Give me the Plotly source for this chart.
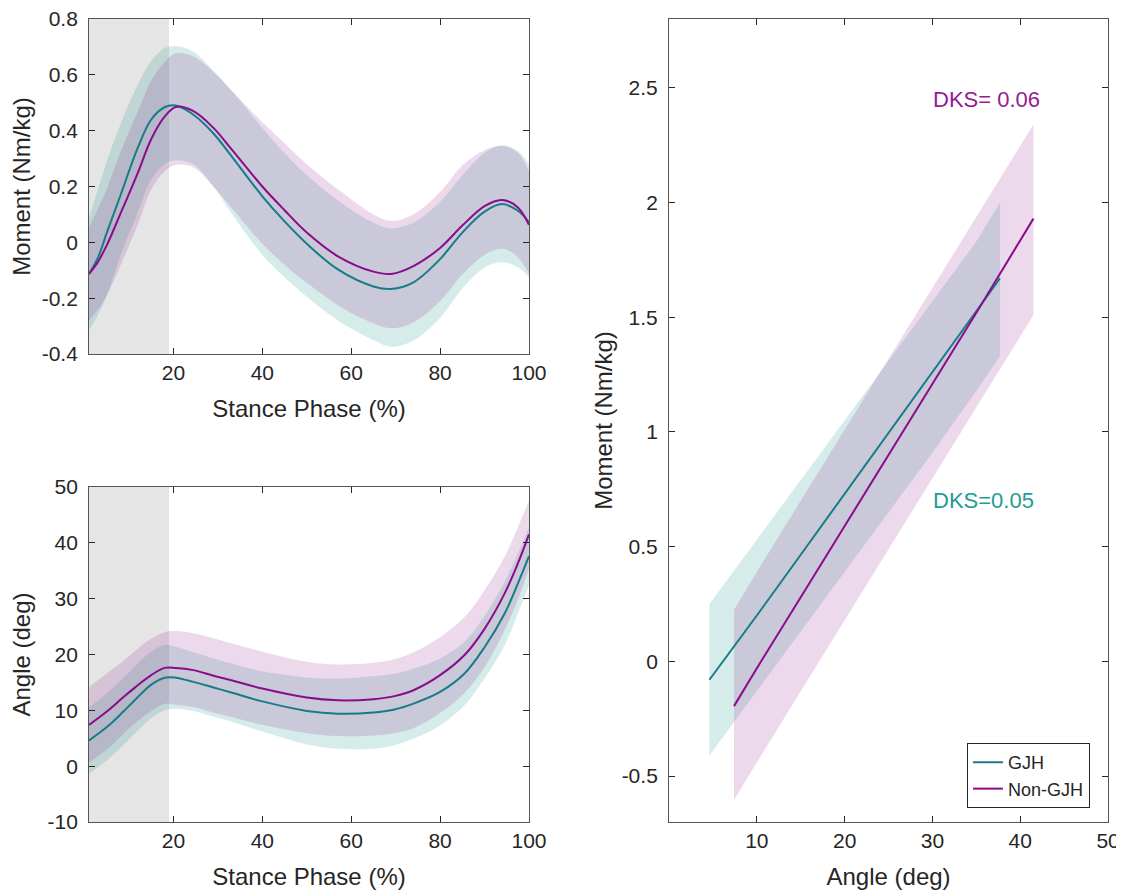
import plotly.graph_objects as go

# ── Data ─────────────────────────────────────────────────────────────────────

# top-left: moment over stance phase
phase_m = [1, 3, 5, 8, 12, 15, 18, 20.5, 24.5, 29, 33, 40, 45, 50, 57, 65, 69, 74, 80, 85, 90, 94, 97.5, 100]
gjh_moment = [-0.113, -0.055, 0.035, 0.165, 0.34, 0.44, 0.484, 0.49, 0.457, 0.39, 0.31, 0.165, 0.075, -0.005,
              -0.097, -0.158, -0.167, -0.143, -0.06, 0.035, 0.11, 0.137, 0.113, 0.072]
gjh_moment_hi = [0.09, 0.19, 0.29, 0.42, 0.565, 0.65, 0.695, 0.703, 0.683, 0.615, 0.545, 0.41, 0.32, 0.24,
                 0.15, 0.07, 0.05, 0.07, 0.145, 0.24, 0.32, 0.348, 0.327, 0.28]
gjh_moment_lo = [-0.314, -0.26, -0.19, -0.05, 0.11, 0.225, 0.28, 0.294, 0.28, 0.2, 0.105, -0.045, -0.125, -0.195,
                 -0.28, -0.35, -0.374, -0.352, -0.27, -0.165, -0.09, -0.071, -0.089, -0.124]
non_moment = [-0.113, -0.07, -0.01, 0.10, 0.25, 0.37, 0.45, 0.485, 0.47, 0.41, 0.335, 0.20, 0.115, 0.035,
              -0.05, -0.105, -0.113, -0.085, -0.02, 0.06, 0.13, 0.152, 0.125, 0.063]
non_moment_hi = [0.054, 0.12, 0.19, 0.32, 0.47, 0.58, 0.645, 0.677, 0.666, 0.61, 0.545, 0.43, 0.355, 0.28,
                 0.19, 0.1, 0.077, 0.1, 0.18, 0.275, 0.33, 0.345, 0.321, 0.256]
non_moment_lo = [-0.28, -0.24, -0.19, -0.085, 0.065, 0.19, 0.255, 0.277, 0.268, 0.2, 0.125, -0.005, -0.08, -0.145,
                 -0.225, -0.29, -0.308, -0.287, -0.21, -0.115, -0.045, -0.023, -0.053, -0.112]

# bottom-left: angle over stance phase
phase_a = [1, 5, 8.5, 11.5, 15, 18, 20.5, 24.5, 29, 33, 40, 50, 57, 65, 69.5, 74, 80, 85.5, 90, 94.5, 97.5, 100]
gjh_angle = [4.6, 7.0, 9.6, 12.0, 14.6, 15.85, 15.85, 15.1, 14.1, 13.2, 11.6, 9.9, 9.4, 9.6, 10.1, 11.2,
             13.3, 16.6, 21.3, 27.3, 32.7, 37.6]
gjh_angle_hi = [10.5, 13.0, 15.6, 18.0, 20.5, 21.7, 21.4, 20.4, 19.3, 18.4, 17.0, 15.9, 15.7, 16.1, 16.5, 17.5,
                19.3, 22.3, 26.9, 33.0, 38.1, 42.8]
gjh_angle_lo = [-1.3, 1.0, 3.6, 6.0, 8.6, 10.0, 10.3, 9.9, 8.9, 8.0, 6.2, 3.9, 3.1, 3.1, 3.7, 4.9,
                7.3, 10.9, 15.7, 21.6, 27.3, 32.4]
non_angle = [7.4, 9.8, 12.2, 14.2, 16.3, 17.6, 17.6, 17.2, 16.2, 15.4, 13.9, 12.3, 11.8, 12.0, 12.5, 13.6,
             16.3, 19.9, 24.6, 30.9, 36.3, 41.5]
non_angle_hi = [14.2, 16.6, 18.7, 20.7, 22.8, 24.0, 24.2, 23.8, 22.9, 22.0, 20.5, 18.7, 18.2, 18.5, 19.1, 20.4,
                23.1, 26.7, 31.5, 37.5, 42.8, 47.6]
non_angle_lo = [0.7, 3.0, 5.6, 7.8, 9.9, 11.2, 11.0, 10.6, 9.6, 8.8, 7.4, 5.9, 5.4, 5.5, 5.9, 6.8,
                9.5, 13.1, 17.7, 24.3, 29.8, 35.4]

# right: moment against angle
gjh_ang = [4.6, 10, 15, 20, 25, 30, 35, 37.7]
gjh_mom = [-0.08, 0.20, 0.465, 0.73, 0.995, 1.26, 1.525, 1.67]
gjh_mom_hi = [0.25, 0.53, 0.79, 1.05, 1.31, 1.57, 1.83, 2.0]
gjh_mom_lo = [-0.41, -0.13, 0.13, 0.39, 0.65, 0.91, 1.18, 1.33]
non_ang = [7.4, 10, 15, 20, 25, 30, 35, 41.5]
non_mom = [-0.195, -0.03, 0.28, 0.59, 0.90, 1.21, 1.52, 1.93]
non_mom_hi = [0.225, 0.39, 0.70, 1.01, 1.32, 1.63, 1.94, 2.34]
non_mom_lo = [-0.605, -0.44, -0.13, 0.18, 0.49, 0.80, 1.11, 1.51]

loading_end = 19   # shaded loading phase (% stance)

phase_ticks = [20, 40, 60, 80, 100]
moment_ticks = [-0.4, -0.2, 0, 0.2, 0.4, 0.6, 0.8]
moment_labels = ["-0.4", "-0.2", "0", "0.2", "0.4", "0.6", "0.8"]
angle_ticks = [-10, 0, 10, 20, 30, 40, 50]
angle_labels = ["-10", "0", "10", "20", "30", "40", "50"]
rel_x_ticks = [10, 20, 30, 40, 50]
rel_y_ticks = [-0.5, 0, 0.5, 1, 1.5, 2, 2.5]
rel_y_labels = ["-0.5", "0", "0.5", "1", "1.5", "2", "2.5"]

# ── Style ────────────────────────────────────────────────────────────────────

TEAL = "#167c86"
PURPLE = "#8a0c8a"
TEAL_FILL = "rgba(20,150,140,0.18)"
PURPLE_FILL = "rgba(140,30,140,0.17)"
FONT = "Arial, Liberation Sans, Helvetica, sans-serif"
INK = "#262626"

fig = go.Figure()


def add_band(x, lo, hi, fill, xa, ya, shape="spline"):
    fig.add_trace(go.Scatter(x=x, y=lo, mode="lines", line=dict(width=0, shape=shape),
                             showlegend=False, hoverinfo="skip", xaxis=xa, yaxis=ya))
    fig.add_trace(go.Scatter(x=x, y=hi, mode="lines", line=dict(width=0, shape=shape),
                             fill="tonexty", fillcolor=fill, showlegend=False,
                             hoverinfo="skip", xaxis=xa, yaxis=ya))


def add_line(x, y, color, xa, ya, name=None, shape="spline"):
    fig.add_trace(go.Scatter(x=x, y=y, mode="lines", line=dict(color=color, width=2, shape=shape),
                             name=name, showlegend=name is not None, xaxis=xa, yaxis=ya))


# top-left
add_band(phase_m, gjh_moment_lo, gjh_moment_hi, TEAL_FILL, "x", "y")
add_band(phase_m, non_moment_lo, non_moment_hi, PURPLE_FILL, "x", "y")
add_line(phase_m, gjh_moment, TEAL, "x", "y")
add_line(phase_m, non_moment, PURPLE, "x", "y")

# bottom-left
add_band(phase_a, gjh_angle_lo, gjh_angle_hi, TEAL_FILL, "x2", "y2")
add_band(phase_a, non_angle_lo, non_angle_hi, PURPLE_FILL, "x2", "y2")
add_line(phase_a, gjh_angle, TEAL, "x2", "y2")
add_line(phase_a, non_angle, PURPLE, "x2", "y2")

# right
add_band(gjh_ang, gjh_mom_lo, gjh_mom_hi, TEAL_FILL, "x3", "y3", shape="linear")
add_band(non_ang, non_mom_lo, non_mom_hi, PURPLE_FILL, "x3", "y3", shape="linear")
add_line(gjh_ang, gjh_mom, TEAL, "x3", "y3", name="GJH", shape="linear")
add_line(non_ang, non_mom, PURPLE, "x3", "y3", name="Non-GJH", shape="linear")

# loading-phase shading on the two time panels
for xr, yr in [("x", "y domain"), ("x2", "y2 domain")]:
    fig.add_shape(type="rect", xref=xr, yref=yr, x0=1, x1=loading_end, y0=0, y1=1,
                  fillcolor="#e5e5e5", line_width=0, layer="below")

axis_common = dict(
    showline=True, linecolor="#555555", linewidth=1, mirror="ticks",
    ticks="inside", ticklen=6, tickcolor=INK, showgrid=False, zeroline=False,
    automargin=False, ticklabeloverflow="allow",
    tickfont=dict(family=FONT, size=21, color=INK),
    title_font=dict(family=FONT, size=24, color=INK),
)
x_title = dict(standoff=16)

# the page body adds an 8px offset, so domains are placed 8px up/left
left_x = [0.0721, 0.4635]
right_x = [0.5881, 0.9787]
top_y = [0.6134, 0.9877]
bottom_y = [0.0905, 0.4648]

fig.update_layout(
    width=1124, height=895,
    margin=dict(l=0, r=0, t=0, b=0, autoexpand=False),
    paper_bgcolor="white", plot_bgcolor="white",
    font=dict(family=FONT, color=INK),
    xaxis=dict(domain=left_x, range=[1, 100], tickvals=phase_ticks,
               title=dict(text="Stance Phase (%)", **x_title), anchor="y", **axis_common),
    yaxis=dict(domain=top_y, range=[-0.4, 0.8], tickvals=moment_ticks, ticktext=moment_labels,
               ticklabelstandoff=6, title=dict(text="Moment (Nm/kg)", standoff=10), anchor="x", **axis_common),
    xaxis2=dict(domain=left_x, range=[1, 100], tickvals=phase_ticks,
                title=dict(text="Stance Phase (%)", **x_title), anchor="y2", **axis_common),
    yaxis2=dict(domain=bottom_y, range=[-10, 50], tickvals=angle_ticks, ticktext=angle_labels,
                ticklabelstandoff=6, title=dict(text="Angle (deg)", standoff=10), anchor="x2", **axis_common),
    xaxis3=dict(domain=right_x, range=[0, 50], tickvals=rel_x_ticks,
                title=dict(text="Angle (deg)", **x_title), anchor="y3", **axis_common),
    yaxis3=dict(domain=[bottom_y[0], top_y[1]], range=[-0.7, 2.8], tickvals=rel_y_ticks, ticktext=rel_y_labels,
                ticklabelstandoff=6, title=dict(text="Moment (Nm/kg)", standoff=2), anchor="x3", **axis_common),
    legend=dict(x=0.9626, y=0.1061, xanchor="right", yanchor="bottom", traceorder="normal",
                bgcolor="white", bordercolor=INK, borderwidth=1,
                font=dict(family=FONT, size=18, color=INK)),
    showlegend=True,
)

fig.add_annotation(x=36.1, y=2.45, xref="x3", yref="y3", text="DKS= 0.06", showarrow=False,
                   font=dict(family=FONT, size=22, color="#951a95"))
fig.add_annotation(x=35.8, y=0.70, xref="x3", yref="y3", text="DKS=0.05", showarrow=False,
                   font=dict(family=FONT, size=22, color="#1f9c95"))

fig.write_html("out.html")
